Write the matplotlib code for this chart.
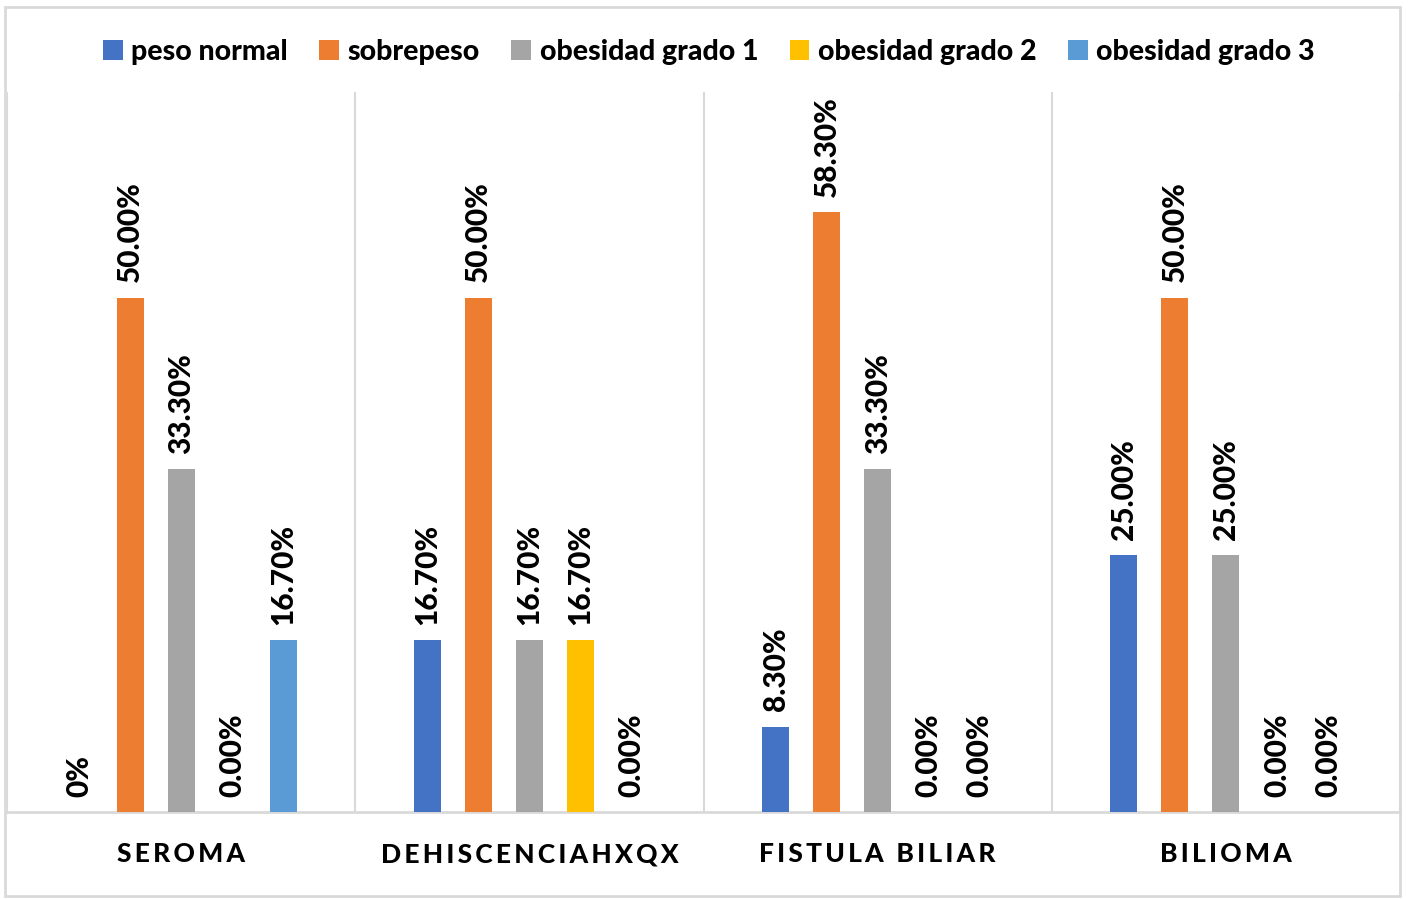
import matplotlib
matplotlib.use("Agg")
import matplotlib.pyplot as plt
from matplotlib.patches import Rectangle
import numpy as np

plt.rcParams['font.family'] = ['Lato', 'DejaVu Sans']

categories = ["SEROMA", "DEHISCENCIAHXQX", "FISTULA BILIAR", "BILIOMA"]
series_names = ["peso normal", "sobrepeso", "obesidad grado 1", "obesidad grado 2", "obesidad grado 3"]
peso_normal = [0.0, 16.7, 8.3, 25.0]
sobrepeso = [50.0, 50.0, 58.3, 50.0]
obesidad_1 = [33.3, 16.7, 33.3, 25.0]
obesidad_2 = [0.0, 16.7, 0.0, 0.0]
obesidad_3 = [16.7, 0.0, 0.0, 0.0]
label_texts = [
    ["0%", "16.70%", "8.30%", "25.00%"],
    ["50.00%", "50.00%", "58.30%", "50.00%"],
    ["33.30%", "16.70%", "33.30%", "25.00%"],
    ["0.00%", "16.70%", "0.00%", "0.00%"],
    ["16.70%", "0.00%", "0.00%", "0.00%"],
]
colors = ["#4472C4", "#ED7D31", "#A5A5A5", "#FFC000", "#5B9BD5"]

series = [peso_normal, sobrepeso, obesidad_1, obesidad_2, obesidad_3]

fig = plt.figure(figsize=(14.08, 8.99), dpi=100)
W, H = 1408, 899
ax = fig.add_axes([7 / W, (H - 812) / H, (1400 - 7) / W, (812 - 92) / H])

grid_col = "#D9D9D9"
step = 0.1465
width = 0.078
x = np.arange(len(categories))
for i, (vals, col, labs) in enumerate(zip(series, colors, label_texts)):
    pos = x + (i - 2) * step
    ax.bar(pos, vals, width=width, color=col, label=series_names[i], zorder=3)
    for px, v, t in zip(pos, vals, labs):
        ax.annotate(t, (px, v), xytext=(0, 11), textcoords="offset points",
                    rotation=90, ha="center", va="bottom", fontsize=21.5,
                    fontweight="black", color="#000000")

ax.set_xlim(-0.5, len(categories) - 0.5)
ax.set_ylim(0, 70)
ax.set_yticks([])
ax.set_xticks([])
for s in ["top", "right", "left"]:
    ax.spines[s].set_visible(False)
ax.spines["bottom"].set_color(grid_col)
ax.spines["bottom"].set_linewidth(2)
for b in np.arange(len(categories) + 1) - 0.5:
    ax.axvline(b, color=grid_col, lw=1.5, zorder=1)

# category labels with letter spacing
for xi, c in zip(x, categories):
    ax.text(xi, -0.059, "\u2009".join(c), transform=ax.get_xaxis_transform(),
            ha="center", va="center", fontsize=19, fontweight="black")

leg = fig.legend(loc="center", bbox_to_anchor=(0.5035, (H - 52) / H), ncol=5,
                 frameon=False, handlelength=0.7, handleheight=0.7,
                 handletextpad=0.3, columnspacing=1.1,
                 prop={"weight": "black", "size": 20.5})

fig.patches.append(Rectangle((5 / W, (H - 896) / H), (1400 - 5) / W, (896 - 7) / H,
                             transform=fig.transFigure, fill=False,
                             edgecolor=grid_col, lw=2))

fig.savefig("out.png", dpi=100, facecolor="white")
